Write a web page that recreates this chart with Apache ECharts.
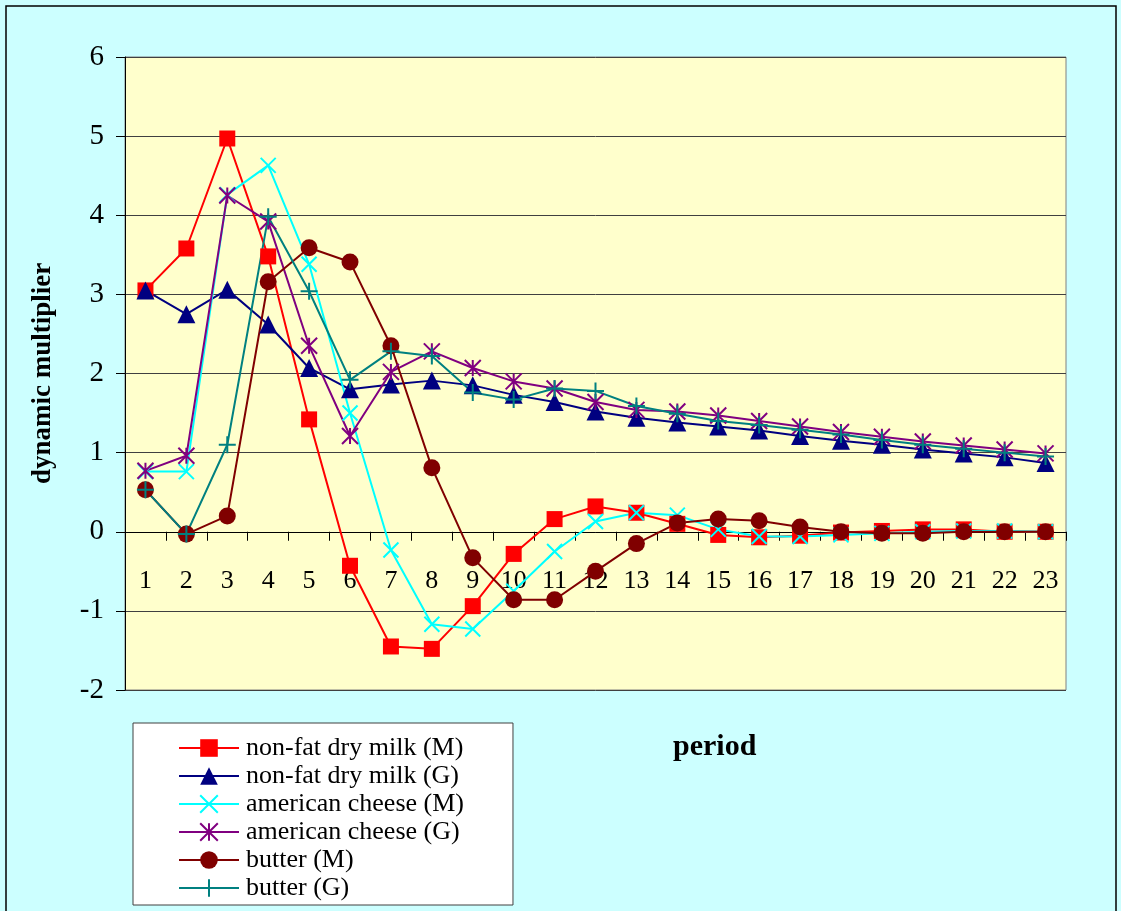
<!DOCTYPE html>
<html>
<head>
<meta charset="utf-8">
<script src="https://cdn.jsdelivr.net/npm/echarts@6/dist/echarts.min.js"></script>
<style>
html,body{margin:0;padding:0;background:#CCFFFF;}
#chart{width:1121px;height:911px;}
</style>
</head>
<body>
<div id="chart"></div>
<script>
const periods = ['1','2','3','4','5','6','7','8','9','10','11','12','13','14','15','16','17','18','19','20','21','22','23'];
const seriesNames = ['non-fat dry milk (M)','non-fat dry milk (G)','american cheese (M)','american cheese (G)','butter (M)','butter (G)'];
const nfdmM = [3.05,3.58,4.97,3.48,1.42,-0.43,-1.45,-1.48,-0.94,-0.28,0.16,0.32,0.24,0.10,-0.04,-0.07,-0.05,-0.01,0.01,0.03,0.03,0.00,0.00];
const nfdmG = [3.05,2.75,3.06,2.62,2.07,1.80,1.86,1.91,1.85,1.73,1.64,1.52,1.44,1.38,1.33,1.28,1.21,1.15,1.10,1.04,0.99,0.94,0.87];
const cheeseM = [0.76,0.76,4.26,4.63,3.38,1.50,-0.23,-1.17,-1.23,-0.75,-0.25,0.13,0.24,0.21,0.03,-0.06,-0.06,-0.04,-0.02,0.00,0.01,0.01,0.00];
const cheeseG = [0.77,0.96,4.25,3.92,2.35,1.21,2.02,2.28,2.07,1.90,1.81,1.64,1.54,1.52,1.47,1.40,1.33,1.26,1.20,1.14,1.09,1.04,0.99];
const butterM = [0.53,-0.03,0.20,3.16,3.59,3.41,2.35,0.81,-0.33,-0.86,-0.86,-0.50,-0.15,0.11,0.16,0.14,0.06,0.00,-0.02,-0.02,0.00,0.00,0.00];
const butterG = [0.53,-0.03,1.10,3.98,3.04,1.92,2.28,2.22,1.76,1.67,1.81,1.78,1.59,1.49,1.40,1.35,1.29,1.23,1.16,1.10,1.05,1.00,0.95];
const yTicks = {min:-2, max:6, interval:1};

const FONT = '"Liberation Serif", "Times New Roman", serif';
const X_PATH = 'path://M0,0L10,10M10,0L0,10';
const STAR_PATH = 'path://M5,0L5,10M0,0L10,10M10,0L0,10';
const PLUS_PATH = 'path://M5,0L5,10M0,5L10,5';

const GRID_TOP = 57, GRID_BOTTOM_Y = 690;
// offset moving the category axis up to the y=0 line
const zeroY = GRID_TOP + (yTicks.max - 0) / (yTicks.max - yTicks.min) * (GRID_BOTTOM_Y - GRID_TOP);
const xOffset = zeroY - GRID_BOTTOM_Y;

function mk(name, data, color, symbol, size, stroked) {
  return {
    name: name, type: 'line', data: data,
    symbol: symbol, symbolSize: size,
    lineStyle: {color: color, width: 2},
    itemStyle: stroked ? {color: 'rgba(0,0,0,0)', borderColor: color, borderWidth: 2} : {color: color, borderWidth: 0},
    emphasis: {disabled: true},
    animation: false
  };
}

const chart = echarts.init(document.getElementById('chart'));
chart.setOption({
  backgroundColor: '#CCFFFF',
  animation: false,
  grid: {left: 125, top: GRID_TOP, right: 55, bottom: 911 - GRID_BOTTOM_Y, show: true, backgroundColor: '#FFFFCC', borderColor: '#808080', borderWidth: 1},
  graphic: [
    {type: 'rect', shape: {x: 6, y: 6, width: 1110, height: 920}, style: {fill: 'none', stroke: '#000', lineWidth: 1.5}, silent: true},
    {type: 'text', left: 673, top: 732, style: {text: 'period', font: 'bold 30px ' + FONT, fill: '#000'}}
  ],
  legend: {
    orient: 'vertical', left: 133, top: 723, height: 400,
    data: seriesNames,
    itemWidth: 60, itemHeight: 22, itemGap: 2,
    padding: [12, 49, 4, 45],
    backgroundColor: '#FFFFFF', borderColor: '#404040', borderWidth: 1,
    textStyle: {fontFamily: FONT, fontSize: 26, lineHeight: 26, color: '#000', padding: [0,0,0,2]},
    selectedMode: false
  },
  xAxis: {
    type: 'category', data: periods, boundaryGap: true,
    offset: xOffset,
    axisLine: {onZero: false, lineStyle: {color: '#000', width: 1}},
    axisTick: {show: true, inside: false, length: 9, alignWithLabel: false, lineStyle: {color: '#000'}},
    axisLabel: {fontFamily: FONT, fontSize: 26, color: '#000', margin: 36, interval: 0},
    splitLine: {show: false}
  },
  yAxis: {
    type: 'value', min: yTicks.min, max: yTicks.max, interval: yTicks.interval,
    name: 'dynamic multiplier', nameLocation: 'middle', nameGap: 68,
    nameTextStyle: {fontFamily: FONT, fontSize: 27, fontWeight: 'bold', color: '#000'},
    axisLine: {show: true, lineStyle: {color: '#000', width: 1}},
    axisTick: {show: true, length: 9, lineStyle: {color: '#000'}},
    axisLabel: {fontFamily: FONT, fontSize: 29, color: '#000', margin: 21},
    splitLine: {show: true, lineStyle: {color: '#404040', width: 1}}
  },
  series: [
    mk(seriesNames[0], nfdmM, '#FF0000', 'rect', 16, false),
    mk(seriesNames[1], nfdmG, '#000080', 'triangle', 18, false),
    mk(seriesNames[2], cheeseM, '#00FFFF', X_PATH, 15, true),
    mk(seriesNames[3], cheeseG, '#800080', STAR_PATH, 16, true),
    mk(seriesNames[4], butterM, '#800000', 'circle', 17, false),
    mk(seriesNames[5], butterG, '#008080', PLUS_PATH, 17, true)
  ]
});
</script>
</body>
</html>
